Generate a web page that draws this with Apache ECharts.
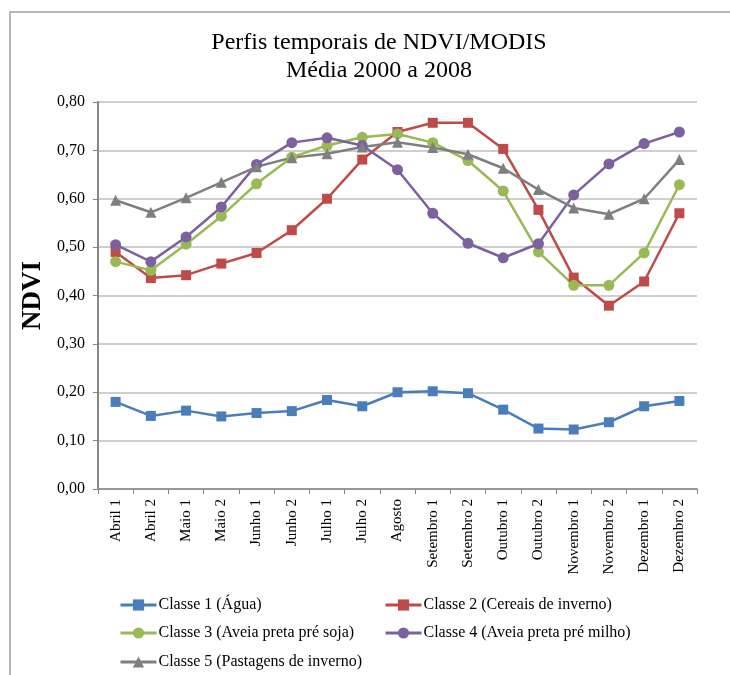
<!DOCTYPE html>
<html><head><meta charset="utf-8">
<script src="https://cdn.jsdelivr.net/npm/echarts@6/dist/echarts.min.js"></script>
<style>html,body{margin:0;padding:0;background:#fff}#c{width:730px;height:675px}</style>
</head><body><div id="c"></div>
<script>
const categories = ["Abril 1","Abril 2","Maio 1","Maio 2","Junho 1","Junho 2","Julho 1","Julho 2","Agosto","Setembro 1","Setembro 2","Outubro 1","Outubro 2","Novembro 1","Novembro 2","Dezembro 1","Dezembro 2"];
const classe1 = [0.180,0.151,0.162,0.150,0.157,0.161,0.184,0.171,0.200,0.202,0.198,0.164,0.125,0.123,0.138,0.171,0.182];
const classe2 = [0.490,0.436,0.442,0.466,0.488,0.535,0.600,0.681,0.738,0.757,0.757,0.703,0.577,0.437,0.379,0.429,0.570];
const classe3 = [0.470,0.452,0.506,0.564,0.631,0.686,0.710,0.727,0.734,0.716,0.679,0.616,0.490,0.421,0.421,0.488,0.629];
const classe4 = [0.505,0.470,0.521,0.583,0.671,0.716,0.726,0.710,0.660,0.570,0.508,0.478,0.507,0.608,0.672,0.714,0.738];
const classe5 = [0.597,0.572,0.602,0.634,0.666,0.685,0.693,0.707,0.717,0.706,0.692,0.663,0.619,0.581,0.568,0.600,0.681];
const seriesNames = ["Classe 1 (Água)","Classe 2 (Cereais de inverno)","Classe 3 (Aveia preta pré soja)","Classe 4 (Aveia preta pré milho)","Classe 5 (Pastagens de inverno)"];

const colors = ["#4A7EBB","#BE4B48","#98B954","#7D60A0","#7F7F7F"];
const symbols = ["rect","rect","circle","circle","triangle"];
const sizes = [10,10,11,11,11];
const datas = [classe1,classe2,classe3,classe4,classe5];
const serif = "Liberation Serif, Times New Roman, serif";

const legendPos = [[114,592],[379,592],[114,620],[379,620],[114,649]];

const chart = echarts.init(document.getElementById('c'), null, {renderer:'canvas'});
chart.setOption({
  animation:false,
  backgroundColor:'#fff',
  color: colors,
  title:[
    {text:"Perfis temporais de NDVI/MODIS", left:374, top:26, textAlign:'center',
     textStyle:{fontFamily:serif,fontSize:24,fontWeight:'normal',color:'#000'}},
    {text:"Média 2000 a 2008", left:374, top:54, textAlign:'center',
     textStyle:{fontFamily:serif,fontSize:24,fontWeight:'normal',color:'#000'}}
  ],
  graphic:[
    {type:'rect', shape:{x:10,y:12,width:740,height:700}, style:{fill:'none',stroke:'#A0A0A0',lineWidth:1.5}, silent:true}
  ],
  legend: legendPos.map((p,i)=>({
    data:[seriesNames[i]], left:p[0], top:p[1], itemWidth:36, itemHeight:14, itemGap:2,
    lineStyle:{width:3},
    textStyle:{fontFamily:serif,fontSize:16,color:'#000',padding:[0,0,0,-3]}
  })),
  grid:{left:98,right:33,top:102,bottom:186},
  xAxis:{
    type:'category', data:categories, boundaryGap:true,
    axisLine:{lineStyle:{color:'#868686',width:1.5}},
    axisTick:{show:true,length:5,alignWithLabel:false,lineStyle:{color:'#868686'}},
    axisLabel:{rotate:90,interval:0,fontFamily:serif,fontSize:15,color:'#000',margin:10}
  },
  yAxis:{
    type:'value', min:0, max:0.8, interval:0.1,
    axisLine:{show:true,lineStyle:{color:'#868686',width:2}},
    axisTick:{show:true,length:5,lineStyle:{color:'#868686'}},
    splitLine:{lineStyle:{color:'#BFBFBF',width:1.5}},
    axisLabel:{fontFamily:serif,fontSize:16,color:'#000',margin:13,
      formatter:v=>v.toFixed(2).replace('.',',')},
    name:'NDVI', nameLocation:'middle', nameGap:47, nameRotate:90,
    nameTextStyle:{fontFamily:serif,fontSize:27,fontWeight:'bold',color:'#000'}
  },
  series: datas.map((d,i)=>({
    name:seriesNames[i], type:'line', data:d, symbol:symbols[i], symbolSize:sizes[i],
    lineStyle:{width:2.5,color:colors[i]}, itemStyle:{color:colors[i]}, showAllSymbol:true
  }))
});
</script></body></html>
